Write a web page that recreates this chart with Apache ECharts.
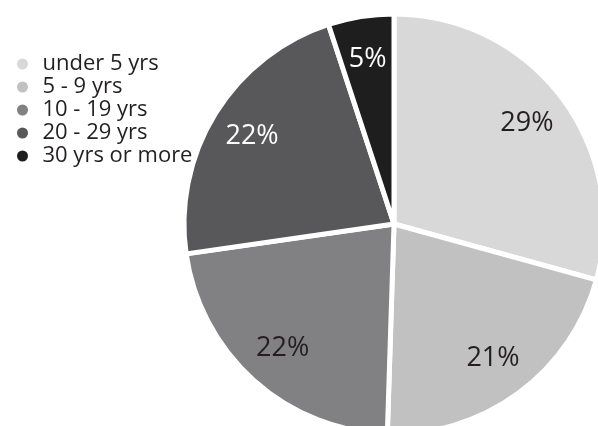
<!DOCTYPE html>
<html>
<head>
<meta charset="utf-8">
<script src="https://cdn.jsdelivr.net/npm/echarts@6/dist/echarts.min.js"></script>
<style>
	html, body { margin: 0; padding: 0; background: #fff; }
	#main { width: 598px; height: 426px; }
</style>
</head>
<body>
<div id="main"></div>
<script>
// 数据
var categories = ["under 5 yrs", "5 - 9 yrs", "10 - 19 yrs", "20 - 29 yrs", "30 yrs or more"];
var shares = [29, 21, 22, 22, 5];
var sliceColors = ["#d8d8d9", "#c1c1c2", "#818184", "#58585a", "#1e1e1f"];
var labelColors = ["#231f20", "#231f20", "#231f20", "#ffffff", "#ffffff"];

/**
 * 拼接饼图数据
 */
function buildData(withColor) {
	var list = [];
	for (var i = 0; i < categories.length; i++) {
		list.push({
			name: categories[i],
			value: shares[i],
			itemStyle: withColor ? { color: sliceColors[i] } : { color: 'transparent' },
			label: { color: labelColors[i] }
		});
	}
	return list;
}

var myChart = echarts.init(document.getElementById('main'));
var center = [394, 224];
var option = {
	backgroundColor: '#fff',
	animation: false,
	legend: {
		orient: 'vertical',
		left: 10,
		top: 48,
		itemGap: 1,
		itemWidth: 24,
		itemHeight: 13,
		icon: 'circle',
		data: categories,
		textStyle: {
			fontFamily: 'Open Sans',
			fontSize: 22,
			lineHeight: 22,
			padding: [0, 0, 0, 3],
			color: '#231f20'
		}
	},
	series: [{
		// 饼图本体
		type: 'pie',
		center: center,
		radius: [0, 210],
		startAngle: 90,
		clockwise: true,
		itemStyle: { borderColor: '#fff', borderWidth: 5 },
		label: { show: false },
		labelLine: { show: false },
		emphasis: { disabled: true },
		data: buildData(true)
	}, {
		// 百分比标签（外圈透明，只显示文字）
		type: 'pie',
		center: center,
		radius: [140, 188],
		startAngle: 90,
		clockwise: true,
		silent: true,
		legendHoverLink: false,
		label: {
			show: true,
			position: 'inside',
			formatter: '{c}%',
			fontFamily: 'Open Sans',
			fontSize: 27
		},
		labelLine: { show: false },
		emphasis: { disabled: true },
		data: buildData(false)
	}]
};
myChart.setOption(option);
</script>
</body>
</html>
